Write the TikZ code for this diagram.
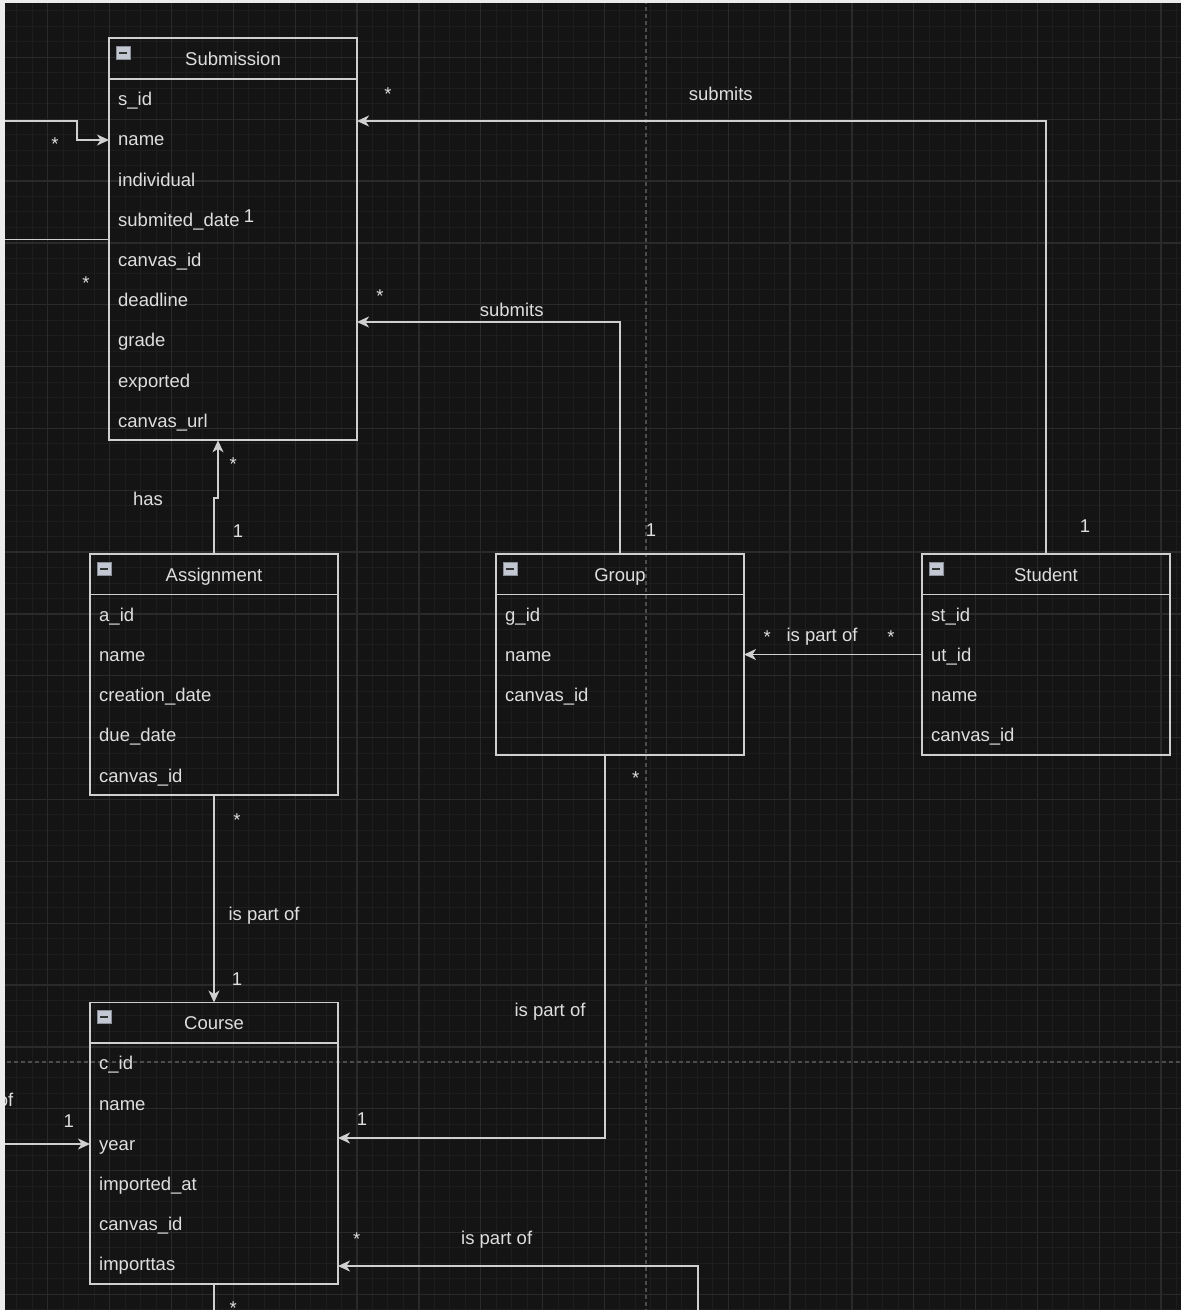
\documentclass[tikz,border=0pt]{standalone}
\usepackage{fontspec}
\setmainfont{Liberation Sans}
\usetikzlibrary{arrows.meta}
\definecolor{bgc}{HTML}{141414}
\definecolor{minorc}{HTML}{1D1D1D}
\definecolor{majorc}{HTML}{2A2A2A}
\definecolor{pagec}{HTML}{4C4C4C}
\definecolor{linec}{HTML}{CFCFCF}
\definecolor{textc}{HTML}{DEDEDE}
\definecolor{iconfill}{HTML}{C3C7D2}
\definecolor{iconedge}{HTML}{8A8E98}
\newcommand{\erfs}{\fontsize{18.5}{22}\selectfont}
\tikzset{
  box/.style={draw=linec, line width=1.7pt, inner sep=0pt, outer sep=0pt, anchor=north west, minimum width=248pt},
  txt/.style={text=textc, font=\erfs, inner sep=0pt, anchor=base west},
  ttl/.style={text=textc, font=\erfs, inner sep=0pt, anchor=base},
  lab/.style={text=textc, font=\erfs, inner sep=0pt, anchor=base},
  conn/.style={draw=linec, line width=1.7pt},
  arr/.style={conn, -{Stealth[length=12pt,width=11pt,inset=3.5pt]}},
  minorg/.style={draw=minorc, line width=1pt},
  majorg/.style={draw=majorc, line width=1.3pt},
  pageline/.style={draw=pagec, line width=1.2pt, dash pattern=on 4pt off 3pt},
}
% #1 name, #2 x, #3 y, #4 height, #5 title, #6 rows
\newcommand{\erbox}[6]{%
  \node[box, minimum height=#4pt] (#1) at (#2,#3) {};
  \draw[conn] ([yshift=-40.5pt]#1.north west) -- ([yshift=-40.5pt]#1.north east);
  \fill[iconfill, draw=iconedge, line width=0.8pt] ([xshift=7pt,yshift=-8pt]#1.north west) rectangle ([xshift=21pt,yshift=-21pt]#1.north west);
  \fill[black!80] ([xshift=10pt,yshift=-13.7pt]#1.north west) rectangle ([xshift=18pt,yshift=-15.5pt]#1.north west);
  \node[ttl] (#1-t) at ([yshift=-27pt]#1.north) {#5};
  \foreach \r [count=\i from 0] in {#6} {
    \node[txt] (#1-r\i) at (#2+9,#3+40.5+40.2*\i+26.8) {\r};
  }
}
\begin{document}
\begin{tikzpicture}[x=1pt,y=-1pt]
\useasboundingbox (0,0) rectangle (1181,1310);
\fill[white!92!black] (0,0) rectangle (1181,1310);
\fill[bgc] (5,3) rectangle (1181,1310);
\begin{scope}
\clip (5,3) rectangle (1181,1310);
% grid
\foreach \k in {-4,...,80} {
  \draw[minorg] (47.8+15.4625*\k,0) -- (47.8+15.4625*\k,1310);
}
\foreach \k in {-4,...,88} {
  \draw[minorg] (0,57.3+15.4625*\k) -- (1181,57.3+15.4625*\k);
}
\foreach \k in {-1,...,20} {
  \draw[majorg] (47.8+61.85*\k,0) -- (47.8+61.85*\k,1310);
}
\foreach \k in {-1,...,22} {
  \draw[majorg] (0,57.3+61.85*\k) -- (1181,57.3+61.85*\k);
}
% page break lines
\draw[pageline] (646,0) -- (646,1310);
\draw[pageline] (0,1062) -- (1181,1062);

% entities
\erbox{sub}{109}{38.3}{402}{Submission}{s\_id,name,individual,submited\_date,canvas\_id,deadline,grade,exported,canvas\_url}
\erbox{asg}{90}{554}{241}{Assignment}{a\_id,name,creation\_date,due\_date,canvas\_id}
\erbox{grp}{496}{554}{201}{Group}{g\_id,name,canvas\_id}
\erbox{stu}{922}{554}{201}{Student}{st\_id,ut\_id,name,canvas\_id}
\erbox{crs}{90}{1002.5}{281.5}{Course}{c\_id,name,year,imported\_at,canvas\_id,importtas}

% free ends
\coordinate (cL1) at (0,121);
\coordinate (cL2) at (0,239.5);
\coordinate (cL3) at (0,1144);
\coordinate (cB1) at (698,1315);
\coordinate (cB2) at (214,1315);

% connectors
\draw[arr] (stu.north) -- (stu.north |- 0,121) -- (sub.east |- 0,121);
\draw[arr] (grp.north) -- (grp.north |- 0,322) -- (sub.east |- 0,322);
\draw[arr] (asg.north) -- ++(0,-56) -- ++(4,0) -- (sub.south -| 218,0);
\draw[arr] (asg.south) -- (crs.north);
\draw[arr] (grp.south -| 605,0) -- (605,1138) -- (crs.east |- 0,1138);
\draw[arr] (stu.west) -- (grp.east);
\draw[arr] (cB1) -- (698,1266) -- (crs.east |- 0,1266);
\draw[conn] (crs.south) -- (cB2);
\draw[arr] (cL1) -- (77,121) -- (77,140) -- (sub.west |- 0,140);
\draw[conn] (cL2) -- (sub.west |- 0,239.5);
\draw[arr] (cL3) -- (crs.west |- 0,1144);

% labels
\node[lab] (l1) at (388,100) {*};
\node[lab] (l2) at (720.8,100) {submits};
\node[lab] (l3) at (1085,532.7) {1};
\node[lab] (l4) at (380,302) {*};
\node[lab] (l5) at (511.7,316) {submits};
\node[lab] (l6) at (651,536.6) {1};
\node[lab] (l7) at (148,505) {has};
\node[lab] (l8) at (233.3,470.6) {*};
\node[lab] (l9) at (238,537) {1};
\node[lab] (l10) at (237,826.6) {*};
\node[lab] (l11) at (264,920.6) {is part of};
\node[lab] (l12) at (237,985.6) {1};
\node[lab] (l13) at (635.7,784) {*};
\node[lab] (l14) at (550,1016.6) {is part of};
\node[lab] (l15) at (362,1125) {1};
\node[lab] (l16) at (767.3,643) {*};
\node[lab] (l17) at (822,641.7) {is part of};
\node[lab] (l18) at (891,643) {*};
\node[lab] (l19) at (356.7,1245.6) {*};
\node[lab] (l20) at (496.7,1244.5) {is part of};
\node[lab] (l21) at (233.3,1314) {*};
\node[lab] (l22) at (55,150) {*};
\node[lab] (l23) at (249,222.7) {1};
\node[lab] (l24) at (86,289) {*};
\node[lab] (l25) at (68.8,1127.3) {1};
\node[lab, anchor=base east] (l26) at (13.5,1106.7) {is part of};
\end{scope}
\end{tikzpicture}
\end{document}
